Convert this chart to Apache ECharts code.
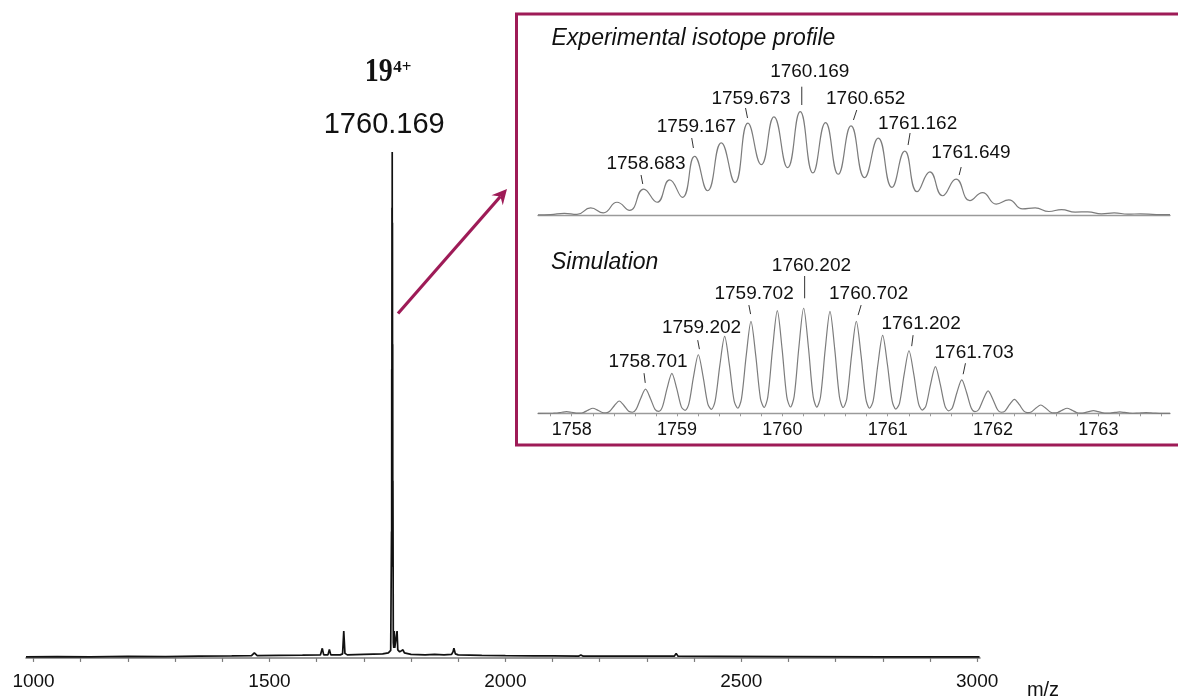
<!DOCTYPE html>
<html><head><meta charset="utf-8">
<script src="https://cdn.jsdelivr.net/npm/echarts@6.0.0/dist/echarts.min.js"></script>
<style>html,body{margin:0;padding:0;background:#fff}#c{width:1178px;height:696px}</style>
</head><body><div id="c"></div>
<script>
// ---------- data ----------
const mainTickValues = [1000,1100,1200,1300,1400,1500,1600,1700,1800,1900,2000,2100,2200,2300,2400,2500,2600,2700,2800,2900,3000];
const mainLabelValues = [1000,1500,2000,2500,3000];
const mainSpectrum = [
 [984,0.2],[1050,0.25],[1120,0.2],[1200,0.3],[1280,0.25],[1350,0.35],[1420,0.4],[1462,0.45],[1468,1.0],[1474,0.45],
 [1520,0.5],[1570,0.55],[1608,0.6],[1612,1.9],[1615,0.6],[1624,0.6],[1627,1.7],[1630,0.6],[1650,0.6],[1655,0.8],
 [1657.5,5.3],[1660,0.9],[1665,0.6],[1700,0.7],[1740,0.8],[1752,1.0],[1757,1.5],[1758.7,25],[1759,18],[1759.2,57],
 [1759.4,30],[1759.7,89],[1759.9,45],[1760.2,100],[1760.4,45],[1760.7,86],[1760.9,40],[1761.2,62],[1761.4,25],[1761.7,35],
 [1762.5,3],[1763.5,2],[1764.5,5.3],[1765.5,2],[1769,1.8],[1770.5,5.3],[1772,1.6],[1776,1.2],[1780,1.4],[1783,1.6],
 [1786,1.0],[1800,0.7],[1830,0.6],[1850,0.7],[1870,0.6],[1886,0.7],[1889,1.2],[1891,1.9],[1894,0.8],[1900,0.6],
 [1950,0.5],[2000,0.45],[2060,0.4],[2100,0.4],[2155,0.35],[2160,0.6],[2165,0.35],[2250,0.35],[2358,0.35],[2362,0.9],
 [2366,0.35],[2450,0.3],[2600,0.25],[2800,0.2],[3005,0.2]
];
const mainPeakLabel = '1760.169';
const mainPeak = [1760.2, 100];
const chargeBase = '19';
const chargeSup = '4+';

const expProfile = [
 [1757.68,0.5],[1757.8,0.8],[1757.93,2],[1758.05,1],[1758.18,7.3],[1758.30,2.5],[1758.43,12.7],[1758.55,4.8],
 [1758.683,25.4],[1758.81,12.7],[1758.93,34.3],[1759.05,17.5],[1759.167,57],[1759.29,23.8],[1759.42,70],[1759.55,31.7],
 [1759.673,89],[1759.80,49],[1759.92,95],[1760.05,46],[1760.169,100],[1760.29,41],[1760.41,89.5],[1760.53,39.7],
 [1760.652,86.3],[1760.78,36.5],[1760.91,74.6],[1761.04,27],[1761.162,62],[1761.28,22.9],[1761.40,42],[1761.52,19],
 [1761.649,35],[1761.78,14.3],[1761.90,22],[1762.03,11],[1762.15,15],[1762.28,6.3],[1762.40,7.3],[1762.53,3.8],
 [1762.65,5.7],[1762.78,3.2],[1762.90,3.5],[1763.03,1.6],[1763.15,2.5],[1763.28,1.2],[1763.40,1.6],[1763.55,0.8],[1763.68,0.8]
];
const simProfile = [
 [1757.68,0],[1757.826,0.1],
 [1757.861,0.26],[1757.906,1.0],[1757.951,1.6],[1757.996,1.0],[1758.041,0.26],[1758.076,0.2],
 [1758.111,0.77],[1758.156,3.0],[1758.201,4.8],[1758.246,3.0],[1758.291,0.77],[1758.326,0.5],
 [1758.361,1.9],[1758.406,7.4],[1758.451,11.7],[1758.496,7.4],[1758.541,1.9],[1758.576,1.0],
 [1758.611,3.7],[1758.656,14.4],[1758.701,22.9],[1758.746,14.4],[1758.791,3.7],[1758.826,1.8],
 [1758.861,6.1],[1758.906,23.9],[1758.951,38],[1758.996,23.9],[1759.041,6.1],[1759.077,2.8],
 [1759.112,8.9],[1759.157,35],[1759.202,55.6],[1759.247,35],[1759.292,8.9],[1759.327,3.8],
 [1759.362,11.7],[1759.407,46],[1759.452,73],[1759.497,46],[1759.542,11.7],[1759.577,4.8],
 [1759.612,14],[1759.657,55],[1759.702,87.3],[1759.747,55],[1759.792,14],[1759.827,5.6],
 [1759.862,15.6],[1759.907,61.4],[1759.952,97.5],[1759.997,61.4],[1760.042,15.6],[1760.077,6],
 [1760.112,16],[1760.157,63],[1760.202,100],[1760.247,63],[1760.292,16],[1760.327,5.9],
 [1760.362,15.5],[1760.407,61],[1760.452,96.8],[1760.497,61],[1760.542,15.5],[1760.577,5.5],
 [1760.612,14],[1760.657,55],[1760.702,87.3],[1760.747,55],[1760.792,14],[1760.827,4.8],
 [1760.862,11.8],[1760.907,46.6],[1760.952,74],[1760.997,46.6],[1761.042,11.8],[1761.077,4],
 [1761.112,9.5],[1761.157,37.4],[1761.202,59.4],[1761.247,37.4],[1761.292,9.5],[1761.328,3.1],
 [1761.363,7.1],[1761.408,28],[1761.453,44.4],[1761.498,28],[1761.543,7.1],[1761.578,2.3],
 [1761.613,5.1],[1761.658,20],[1761.703,31.7],[1761.748,20],[1761.793,5.1],[1761.828,1.6],
 [1761.863,3.4],[1761.908,13.4],[1761.953,21.3],[1761.998,13.4],[1762.043,3.4],[1762.078,1.0],
 [1762.113,2.1],[1762.158,8.4],[1762.203,13.3],[1762.248,8.4],[1762.293,2.1],[1762.328,0.6],
 [1762.363,1.3],[1762.408,5],[1762.453,7.9],[1762.498,5],[1762.543,1.3],[1762.578,0.4],
 [1762.613,0.77],[1762.658,3],[1762.703,4.8],[1762.748,3],[1762.793,0.77],[1762.828,0.2],
 [1762.863,0.4],[1762.908,1.6],[1762.953,2.5],[1762.998,1.6],[1763.043,0.4],[1763.078,0.1],
 [1763.113,0.2],[1763.158,0.8],[1763.203,1.3],[1763.248,0.8],[1763.293,0.2],[1763.328,0.05],
 [1763.363,0.1],[1763.408,0.38],[1763.453,0.6],[1763.498,0.38],[1763.543,0.1],[1763.578,0],[1763.68,0]
];
const insetTickValues = [1757.8,1758,1758.2,1758.4,1758.6,1758.8,1759,1759.2,1759.4,1759.6,1759.8,1760,1760.2,1760.4,1760.6,1760.8,1761,1761.2,1761.4,1761.6,1761.8,1762,1762.2,1762.4,1762.6,1762.8,1763,1763.2,1763.4,1763.6];
const insetLabelValues = [1758,1759,1760,1761,1762,1763];
const expLabelMz = [1758.683,1759.167,1759.673,1760.169,1760.652,1761.162,1761.649];
const expLabelH  = [25.4,57,89,100,86.3,62,35];
const simLabelMz = [1758.701,1759.202,1759.702,1760.202,1760.702,1761.202,1761.703];
const simLabelH  = [22.9,55.6,87.3,100,87.3,59.4,31.7];
const expTitle = 'Experimental isotope profile';
const simTitle = 'Simulation';
const axisName = 'm/z';

// ---------- layout (pixel offsets relative to peak tops) ----------
const expLayout = [
 {lx:2.4,ly:-25.8,t:[-2.6,-14.1],b:[-0.9,-5.1]},
 {lx:1.8,ly:-29.6,t:[-2.9,-18.3],b:[-1.2,-8.3]},
 {lx:3.1,ly:-24.8,t:[-2.4,-15.1],b:[-0.4,-5.1]},
 {lx:9.6,ly:-40,t:[1.6,-25],b:[1.6,-6.7]},
 {lx:14.6,ly:-27.6,t:[5.7,-15.9],b:[2.4,-5.9]},
 {lx:12.8,ly:-27.8,t:[5.3,-18.1],b:[3.3,-6.1]},
 {lx:14.9,ly:-26.4,t:[5.1,-12.1],b:[3.1,-4.1]}
];
const simLayout = [
 {lx:2.5,ly:-27.3,t:[-1.5,-16],b:[-0.3,-6.3]},
 {lx:3.2,ly:-27.3,t:[-0.6,-14.6],b:[1.1,-5.6]},
 {lx:3.1,ly:-28,t:[-2.1,-16.3],b:[-0.4,-7.3]},
 {lx:7.8,ly:-42,t:[1,-32],b:[1,-9.7]},
 {lx:12.3,ly:-28,t:[4.8,-16.3],b:[1.8,-6.3]},
 {lx:12.1,ly:-26.6,t:[4.1,-15.6],b:[2.7,-4.6]},
 {lx:12.4,ly:-27,t:[3.7,-16.7],b:[1.4,-5.7]}
];

const SANS = '"Liberation Sans", Arial, sans-serif';
const CRIMSON = '#9e1b57';
const chart = echarts.init(document.getElementById('c'), null, {renderer:'canvas'});
const plain = v => String(v);

const hiddenY = (min,max,grid)=>({type:'value',gridIndex:grid,min,max,show:false});
chart.setOption({
  animation:false,
  backgroundColor:'#fff',
  grid:[
    {left:26,right:198,top:152,bottom:33},
    {left:538,right:8,top:111.7,bottom:479},
    {left:538,right:8,top:308,bottom:282.7}
  ],
  xAxis:[
    {type:'value',gridIndex:0,min:984,max:3006,
     axisLine:{lineStyle:{color:'#7a7a7a',width:1.6}},
     axisTick:{customValues:mainTickValues,length:4,lineStyle:{color:'#7a7a7a',width:1.2}},
     axisLabel:{customValues:mainLabelValues,formatter:plain,fontSize:19,color:'#111',fontFamily:SANS,margin:9},
     splitLine:{show:false}},
    {type:'value',gridIndex:1,min:1757.68,max:1763.68,
     axisLine:{lineStyle:{color:'#9a9a9a',width:1.4}},
     axisTick:{show:false},axisLabel:{show:false},splitLine:{show:false}},
    {type:'value',gridIndex:2,min:1757.68,max:1763.68,
     axisLine:{lineStyle:{color:'#9a9a9a',width:1.4}},
     axisTick:{customValues:insetTickValues,length:3,lineStyle:{color:'#9a9a9a',width:1}},
     axisLabel:{customValues:insetLabelValues,formatter:plain,fontSize:18,color:'#111',fontFamily:SANS,margin:8},
     splitLine:{show:false}}
  ],
  yAxis:[hiddenY(-1,100,0),hiddenY(-1.5,100,1),hiddenY(0,100,2)],
  series:[
    {type:'line',xAxisIndex:0,yAxisIndex:0,data:mainSpectrum,symbol:'none',
     lineStyle:{color:'#111',width:1.7},sampling:null,z:3},
    {type:'line',xAxisIndex:1,yAxisIndex:1,data:expProfile,symbol:'none',smooth:0.5,
     lineStyle:{color:'#7c7c7c',width:1.2},z:3},
    {type:'line',xAxisIndex:2,yAxisIndex:2,data:simProfile,symbol:'none',smooth:0.3,
     lineStyle:{color:'#7c7c7c',width:1.2},z:3}
  ]
});

function txt(x,y,text,font,align,extra){
  return Object.assign({type:'text',x,y,z:10,style:{text,font,fill:'#111',
    textAlign:align||'center',textVerticalAlign:'middle',align:align||'center',verticalAlign:'middle'}},extra||{});
}
const g = [];
g.push({type:'rect',z:-1,shape:{x:516.5,y:14,width:720,height:431},
  style:{fill:'#fff',stroke:CRIMSON,lineWidth:3}});
const tip=[507,189], start=[398,313.5];
const dx=tip[0]-start[0], dy=tip[1]-start[1], L=Math.hypot(dx,dy), ux=dx/L, uy=dy/L, px=-uy, py=ux;
const hl=15, hw=7.5, notch=10;
const baseC=[tip[0]-hl*ux,tip[1]-hl*uy], notchP=[tip[0]-notch*ux,tip[1]-notch*uy];
g.push({type:'line',z:5,shape:{x1:start[0],y1:start[1],x2:notchP[0],y2:notchP[1]},
  style:{stroke:CRIMSON,lineWidth:3.2}});
g.push({type:'polygon',z:5,shape:{points:[tip,[baseC[0]+hw*px,baseC[1]+hw*py],notchP,[baseC[0]-hw*px,baseC[1]-hw*py]]},
  style:{fill:CRIMSON}});
const mp = chart.convertToPixel({gridIndex:0}, mainPeak);
g.push(txt(mp[0]-8, mp[1]-27, mainPeakLabel, '29px '+SANS));
g.push(txt(mp[0]-13.5, mp[1]-80, chargeBase, 'bold 28px "Liberation Serif", "Times New Roman", serif','center',{scaleY:1.2}));
g.push(txt(mp[0]+1, mp[1]-84, chargeSup, 'bold 17px "Liberation Serif", "Times New Roman", serif','left'));
g.push(txt(1043, 690, axisName, '20px '+SANS));
g.push(txt(551.5, 38.5, expTitle, 'italic 23px '+SANS, 'left'));
g.push(txt(551, 262.5, simTitle, 'italic 23px '+SANS, 'left'));
function addLabels(grid, mzs, hs, layout){
  mzs.forEach((mz,i)=>{
    const p = chart.convertToPixel({gridIndex:grid}, [mz, hs[i]]);
    const l = layout[i];
    g.push(txt(p[0]+l.lx, p[1]+l.ly, mz.toFixed(3), '19px '+SANS));
    g.push({type:'line',z:10,shape:{x1:p[0]+l.t[0],y1:p[1]+l.t[1],x2:p[0]+l.b[0],y2:p[1]+l.b[1]},
      style:{stroke:'#333',lineWidth:1}});
  });
}
addLabels(1, expLabelMz, expLabelH, expLayout);
addLabels(2, simLabelMz, simLabelH, simLayout);
chart.setOption({graphic:g});
</script></body></html>
